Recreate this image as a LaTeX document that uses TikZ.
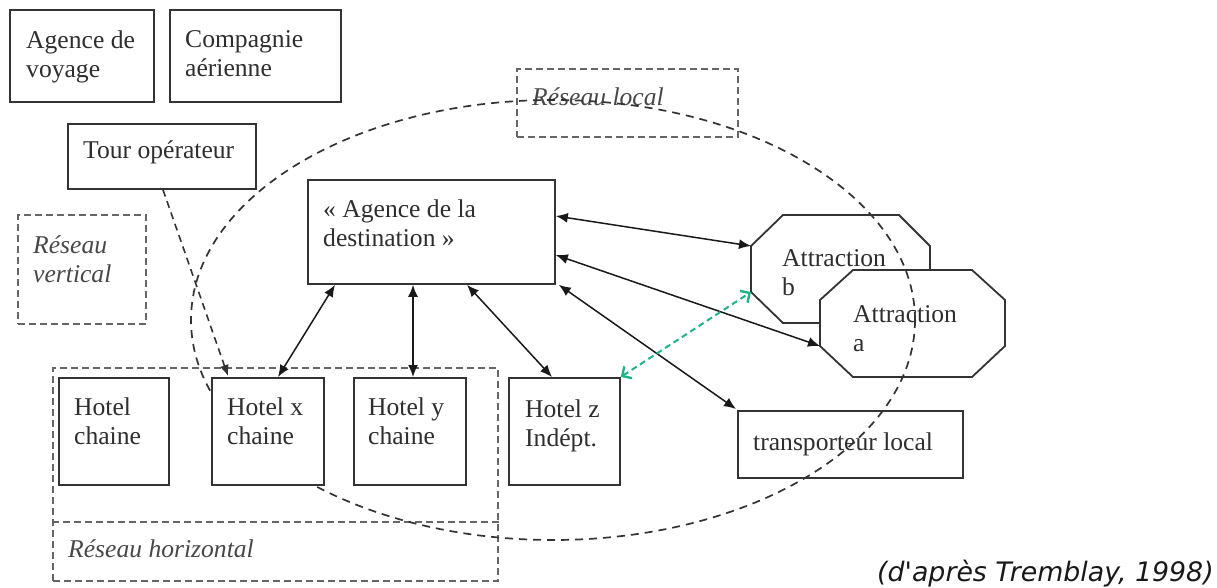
\documentclass[tikz,border=0pt]{standalone}
\usepackage{fontspec}
\setmainfont{Liberation Serif}
\newfontfamily\citefont{DejaVu Sans}
\usetikzlibrary{arrows.meta}
\definecolor{boxc}{HTML}{333333}
\definecolor{dashc}{HTML}{666666}
\definecolor{tealg}{RGB}{30,178,136}
\begin{document}
\begin{tikzpicture}[x=1pt,y=-1pt,
  box/.style={draw=boxc, line width=1.8pt, anchor=north west, inner sep=0pt},
  hbox/.style={box, fill=white},
  txt/.style={anchor=north west, inner sep=0pt, align=left, yshift=-2.5pt, text=black!82, font=\fontsize{25.6}{29}\selectfont},
  itxt/.style={txt, text=black!72, font=\fontsize{25.6}{29}\selectfont\itshape},
  grp/.style={draw=dashc, line width=2.2pt, dash pattern=on 7pt off 4pt, anchor=north west, inner sep=0pt},
  grpline/.style={draw=dashc, line width=2.2pt, dash pattern=on 7pt off 4pt},
  oct/.style={draw=boxc, line width=1.8pt, fill=white},
  ell/.style={draw=black!80, line width=1.7pt, dash pattern=on 8pt off 6pt},
  dbl/.style={draw=black!90, line width=1.5pt, {Latex[length=12pt,width=10pt]}-{Latex[length=12pt,width=10pt]}},
  grn/.style={draw=tealg, line width=2pt, dash pattern=on 6pt off 4pt, {Straight Barb[length=7pt,width=14pt,line width=2.4pt]}-{Straight Barb[length=7pt,width=14pt,line width=2.4pt]}},
  vert/.style={draw=black!80, line width=1.6pt, dash pattern=on 7pt off 5pt, -{Latex[length=11pt,width=9pt]}},
]
\useasboundingbox (0,0) rectangle (1217,588);

% boxes
\node[box, minimum width=144pt, minimum height=92pt] (agv) at (9,9) {};
\node[box, minimum width=171pt, minimum height=92pt] (cpa) at (169,9) {};
\node[box, minimum width=188pt, minimum height=65pt] (tour) at (67,123) {};
\node[grp, minimum width=128pt, minimum height=109pt] (rvert) at (17,214) {};
\node[grp, minimum width=221pt, minimum height=68pt] (rloc) at (516,68) {};
\node[box, minimum width=247pt, minimum height=104pt] (dest) at (307,179) {};
\node[grp, minimum width=445pt, minimum height=213pt] (rhor) at (52,367) {};
\draw[grpline] ([yshift=-155pt]rhor.north west) -- ([yshift=-155pt]rhor.north east);
\node[box, minimum width=225pt, minimum height=67pt] (trans) at (737,410) {};

% octagons
\draw[oct] (783,215) -- (899,215) -- (930,246) -- (930,292) -- (899,323) -- (783,323) -- (751,292) -- (751,246) -- cycle;
\coordinate (bNW) at (751,246);
\coordinate (bSW) at (751,292);
\draw[oct] (853,270) -- (972,270) -- (1005,300) -- (1005,346) -- (972,377) -- (853,377) -- (820,346) -- (820,300) -- cycle;
\coordinate (aSW) at (820,346);

% texts
\node[txt] (agvt) at (26,28) {Agence de\\voyage};
\node[txt] (cpat) at (185,28) {Compagnie\\aérienne};
\node[txt] (tourt) at (83,138) {Tour opérateur};
\node[itxt] (rvertt) at (33,233) {Réseau\\vertical};
\node[itxt] (rloct) at (532,85) {Réseau local};
\node[txt] (destt) at (323,197) {« Agence de la\\destination »};
\node[txt] (attbt) at (782,247) {Attraction\\b};
\node[txt] (attat) at (853,303) {Attraction\\a};
\node[txt] (transt) at (753,430) {transporteur local};
\node[itxt] (rhort) at (68,537) {Réseau horizontal};
\node[anchor=base west, inner sep=0pt, text=black!90, font=\citefont\itshape\fontsize{26.8}{30}\selectfont] (cite) at (877,581) {(d'après Tremblay, 1998)};

% local network ellipse
\draw[ell] (553,320) ellipse [x radius=362pt, y radius=220pt];

% hotels (drawn over the ellipse)
\node[hbox, minimum width=110pt, minimum height=107pt] (hc) at (58,377) {};
\node[hbox, minimum width=112pt, minimum height=107pt] (hx) at (211,377) {};
\node[hbox, minimum width=112pt, minimum height=107pt] (hy) at (353,377) {};
\node[hbox, minimum width=111pt, minimum height=107pt] (hz) at (508,377) {};
\node[txt] (hct) at (74,395) {Hotel\\chaine};
\node[txt] (hxt) at (227,395) {Hotel x\\chaine};
\node[txt] (hyt) at (368,395) {Hotel y\\chaine};
\node[txt] (hzt) at (525,397) {Hotel z\\Indépt.};

% connectors
\draw[vert] ([xshift=96pt]tour.south west) -- ([xshift=17pt,yshift=1pt]hx.north west);
\draw[dbl] ([xshift=28pt]dest.south west) -- ([xshift=67pt]hx.north west);
\draw[dbl] ([xshift=106pt]dest.south west) -- ([xshift=60pt]hy.north west);
\draw[dbl] ([xshift=160pt]dest.south west) -- ([xshift=44pt]hz.north west);
\draw[dbl] ([xshift=3pt]dest.south east) -- ([xshift=-1pt,yshift=1pt]trans.north west);
\draw[dbl] ([yshift=-37pt]dest.north east) -- (bNW);
\draw[dbl] ([yshift=-76pt]dest.north east) -- (aSW);
\draw[grn] (hz.north east) -- (bSW);
\end{tikzpicture}
\end{document}
